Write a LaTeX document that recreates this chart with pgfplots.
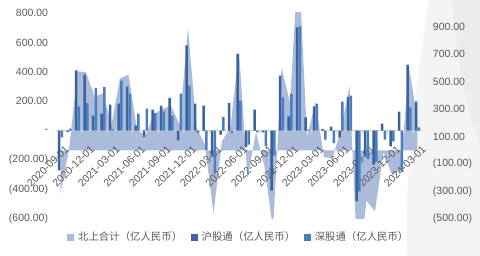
\documentclass[border=0pt]{standalone}
\usepackage{fontspec}
\setmainfont{Liberation Sans}
\newfontfamily\cjk{Noto Sans CJK SC}
\usepackage{pgfplots}
\usepackage{pgfplotstable}
\pgfplotsset{compat=1.18}
\definecolor{darkbar}{HTML}{3A639E}
\definecolor{lightbar}{HTML}{4A7EC0}
\definecolor{areacol}{HTML}{ABBCDB}
\definecolor{txt}{HTML}{595959}
\definecolor{axgray}{HTML}{D0D0D0}
\definecolor{bgone}{HTML}{F4F4F4}
\definecolor{bgtwo}{HTML}{ECECEC}

\pgfplotstableread{
k hu shen total
0 -270 -45 -315
1 -10 14 4
2 410 165 575
3 381 188 569
4 102 290 392
5 116 297 413
6 177 11 188
7 184 340 524
8 299 252 551
9 34 116 150
10 -43 150 107
11 143 120 263
12 170 131 301
13 224 102 326
14 -66 252 186
15 580 306 886
16 184 -16 168
17 170 -130 40
18 -175 -285 -460
19 -27 93 66
20 188 -16 172
21 523 204 727
22 -110 -95 -205
23 143 -11 132
24 -11 -106 -117
25 -408 -170 -578
26 374 227 601
27 97 252 349
28 702 709 1411
29 91 7 98
30 165 184 349
31 11 -61 -50
32 27 -84 -57
33 -45 197 152
34 229 238 467
35 -480 -412 -892
36 -175 -193 -368
37 -231 -213 -444
38 48 -61 -13
39 -106 -72 -178
40 129 -276 -147
41 449 159 608
42 197 23 220
}\data

\begin{document}
\begin{tikzpicture}[x=1pt,y=1pt]
\useasboundingbox (0,0) rectangle (480,256);
\fill[bgone] (429,256) .. controls (416,170) and (404,80) .. (407,0) -- (480,0) -- (480,256) -- cycle;
\fill[bgtwo] (452,256) .. controls (458,190) and (468,140) .. (480,112) -- (480,256) -- cycle;

% right axis: total (area)
\begin{axis}[
  at={(56.25pt,37pt)}, anchor=south west, scale only axis,
  width=365.5pt, height=206pt,
  xmin=-0.5, xmax=42.5, ymin=-500, ymax=1000,
  axis line style={draw=none}, xtick=\empty,
  yticklabel pos=right,
  ytick={-500,-300,...,900},
  yticklabels={(500.00),(300.00),(100.00),100.00,300.00,500.00,700.00,900.00},
  major tick length=0pt,
  yticklabel style={anchor=west, inner sep=0pt, xshift=11pt, font=\fontsize{10.5}{12}\selectfont, text=txt},
]
\addplot[fill=areacol, draw=none] table[x=k,y=total]{\data} \closedcycle;
\end{axis}

% left axis: bars
\begin{axis}[
  at={(56.25pt,37pt)}, anchor=south west, scale only axis,
  width=365.5pt, height=206pt,
  xmin=-0.5, xmax=42.5, ymin=-600, ymax=800,
  axis x line=middle, axis y line=left,
  hide obscured x ticks=false, hide obscured y ticks=false,
  x axis line style={-, draw=axgray, line width=0.8pt},
  y axis line style={draw=none},
  major tick length=0pt,
  tick style={draw=axgray, line width=0.6pt},
  xtick={0,3,...,42},
  xticklabels={2020-09-01,2020-12-01,2021-03-01,2021-06-01,2021-09-01,2021-12-01,2022-03-01,2022-06-01,2022-09-01,2022-12-01,2023-03-01,2023-06-01,2023-09-01,2023-12-01,2024-03-01},
  extra x ticks={2.5,5.5,...,41.5},
  extra x tick labels={},
  extra x tick style={major tick length=3pt, tick align=outside},
  xticklabel style={font=\fontsize{10.5}{12}\selectfont, text=txt, inner sep=0pt, xshift=6.5pt, yshift=-16.5pt, rotate=45, anchor=east},
  ytick={-600,-400,...,800},
  yticklabels={(600.00),(400.00),(200.00),-,200.00,400.00,600.00,800.00},
  yticklabel style={anchor=east, inner sep=0pt, xshift=-8pt, font=\fontsize{10.5}{12}\selectfont, text=txt},
  legend columns=3,
  legend style={at={(0.0294,-0.0874)}, anchor=west, draw=none, fill=none, inner sep=0pt,
    font=\cjk\fontsize{10.4}{12}\selectfont, text=txt,
    /tikz/every even column/.append style={column sep=6.5pt},
    /tikz/every odd column/.append style={column sep=2.6pt}},
]
\addplot[ybar, bar width=0.27, bar shift=-0.16, fill=darkbar, draw=none, forget plot] table[x=k,y=hu]{\data};
\addplot[ybar, bar width=0.27, bar shift=0.16, fill=lightbar, draw=none, forget plot] table[x=k,y=shen]{\data};
\addlegendimage{legend image code/.code={\fill[areacol] (0pt,-3pt) rectangle (6pt,3pt);}}
\addlegendentry{北上合计（亿人民币）}
\addlegendimage{legend image code/.code={\fill[darkbar] (0pt,-3pt) rectangle (6pt,3pt);}}
\addlegendentry{沪股通（亿人民币）}
\addlegendimage{legend image code/.code={\fill[lightbar] (0pt,-3pt) rectangle (6pt,3pt);}}
\addlegendentry{深股通（亿人民币）}
\end{axis}
\end{tikzpicture}
\end{document}
